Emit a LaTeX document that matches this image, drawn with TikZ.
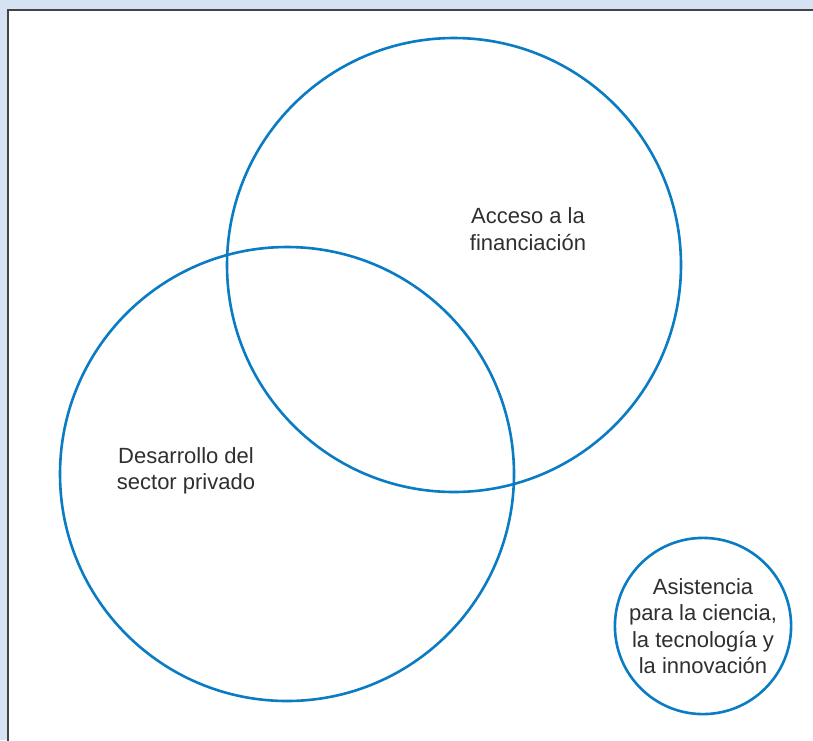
\documentclass[tikz,border=0pt]{standalone}
\usepackage{fontspec}
\setmainfont{Liberation Sans}
\definecolor{framebg}{HTML}{D6E2F3}
\definecolor{frameline}{HTML}{444444}
\definecolor{vennblue}{HTML}{0A7CC4}
\definecolor{txt}{HTML}{2F2F2F}
\begin{document}
\begin{tikzpicture}[x=1pt, y=-1pt,
  set/.style={circle, draw=vennblue, line width=2.6pt, inner sep=0pt},
  lbl/.style={font=\fontsize{22}{26.5}\selectfont, text=txt, align=center}]
\useasboundingbox (0,0) rectangle (813,740);
\fill[framebg] (0,0) rectangle (813,740);
\fill[white] (7.5,10) rectangle (813,740);
\draw[frameline, line width=2pt] (7.5,741) -- (7.5,10) -- (814,10);
% the three sets
\node[set, minimum size=454pt] (fin) at (454,265) {};
\node[set, minimum size=454pt] (priv) at (287,474) {};
\node[set, minimum size=176pt, lbl] (cti) at (703,626) {Asistencia\\para la ciencia,\\la tecnología y\\la innovación};
% labels
\node[lbl] (finlbl) at (528,229) {Acceso a la\\financiación};
\node[lbl] (privlbl) at (186,471) {Desarrollo del\\sector privado};
\end{tikzpicture}
\end{document}
